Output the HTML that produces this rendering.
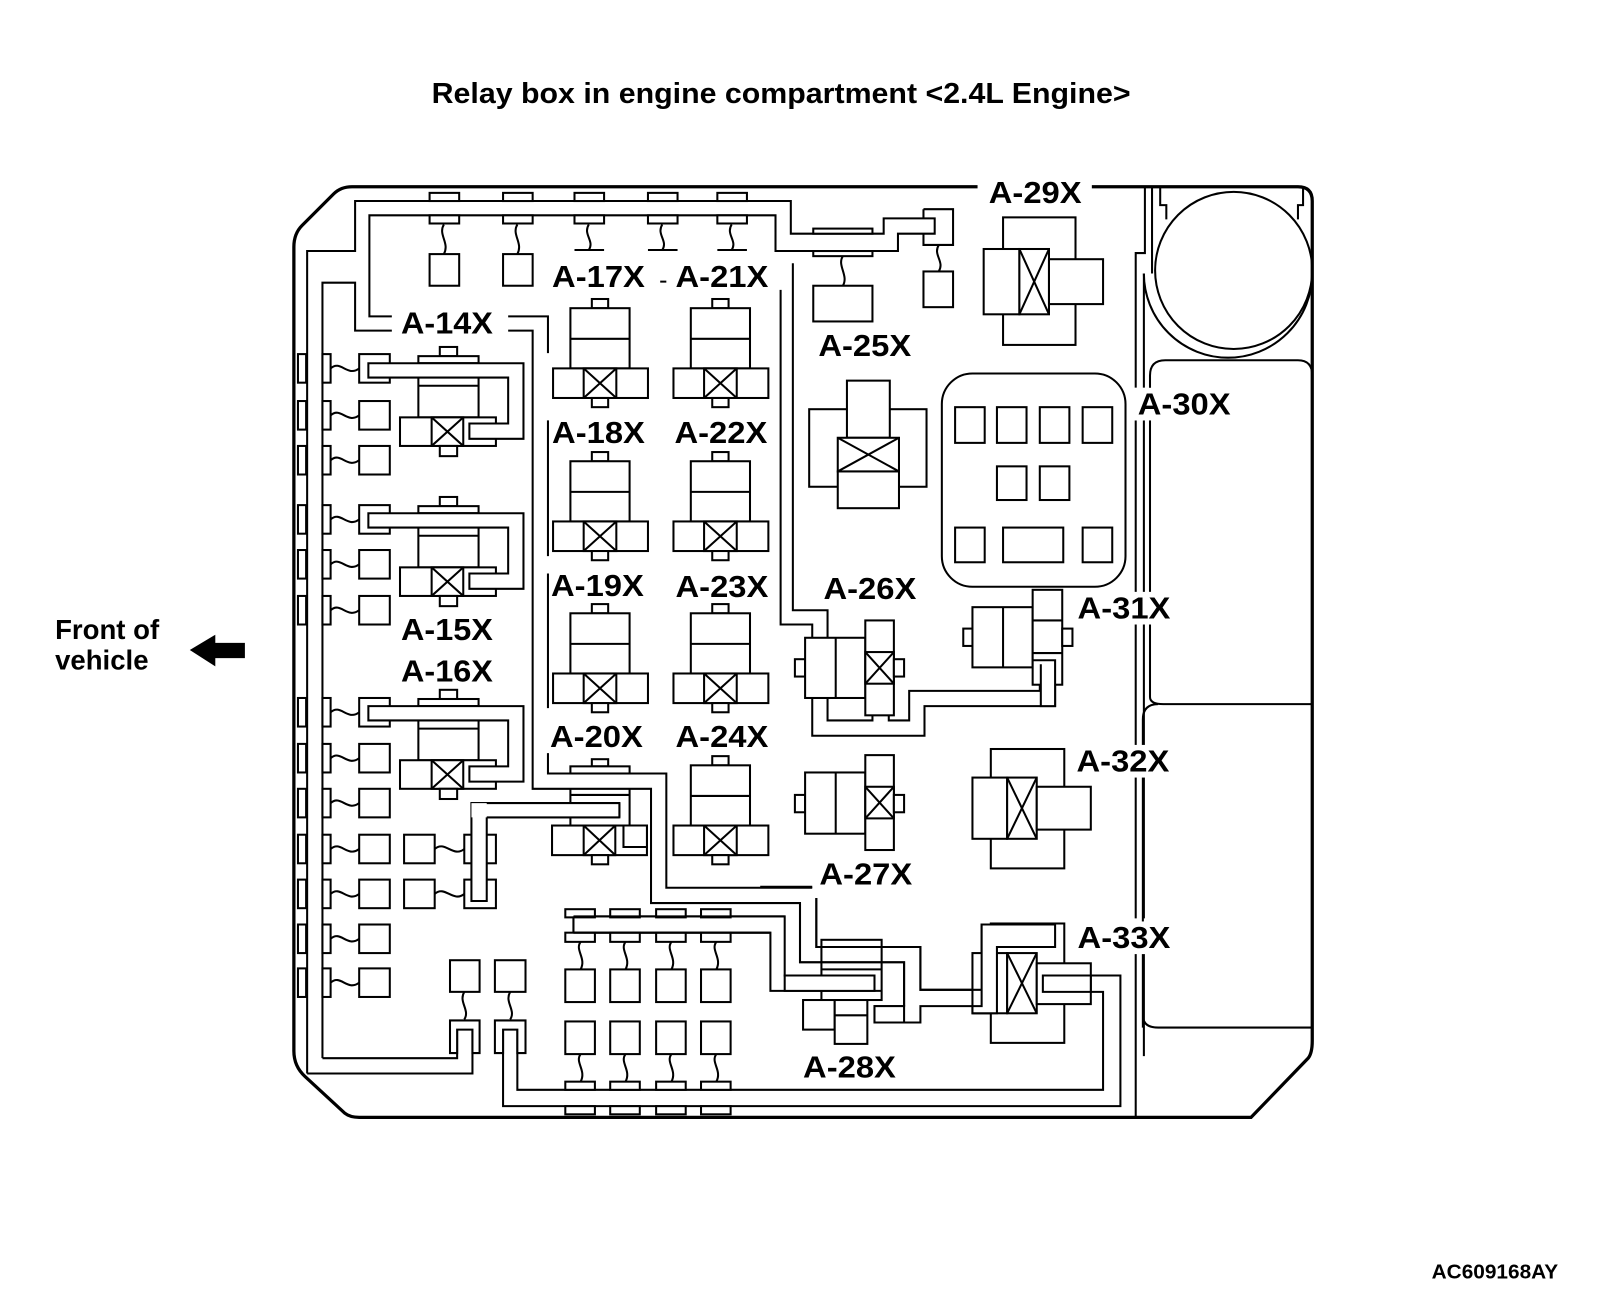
<!DOCTYPE html>
<html><head><meta charset="utf-8"><style>
html,body{margin:0;padding:0;background:#fff;}
svg{display:block;}
text{font-family:"Liberation Sans",Arial,sans-serif;font-weight:bold;fill:#000;}
</style></head><body>
<svg width="1600" height="1298" viewBox="0 0 1568 1272" xmlns="http://www.w3.org/2000/svg">
<defs>
<g id="vr" fill="#fff" stroke="#000" stroke-width="2">
<rect x="38" y="0" width="16" height="9"/><rect x="17" y="9" width="58" height="59"/><line x1="17" y1="39" x2="75" y2="39"/>
<rect x="0" y="68" width="93" height="29"/><rect x="30" y="68" width="32" height="29"/>
<path d="M30 68 L62 97 M62 68 L30 97"/><rect x="38" y="97" width="16" height="9"/>
</g>
<g id="hr" fill="#fff" stroke="#000" stroke-width="2">
<rect x="39" y="0" width="17" height="9"/><rect x="18" y="9" width="59" height="7"/><rect x="18" y="16" width="59" height="53"/>
<line x1="18" y1="38" x2="77" y2="38"/>
<rect x="0" y="69" width="94" height="28"/><rect x="31" y="69" width="31" height="28"/>
<path d="M31 69 L62 97 M62 69 L31 97"/><rect x="39" y="97" width="17" height="10"/>
<path d="M-31 16 H121 V90 H68 V75 H106 V30 H-31 Z"/>
</g>
<g id="lc" fill="#fff" stroke="#000" stroke-width="2">
<rect x="292" y="-14" width="8" height="28"/><rect x="316" y="-14" width="8" height="28"/>
<path d="M324 0 C334 -9 340 9 352 0" fill="none"/><rect x="352" y="-14" width="30" height="28"/>
</g>
<g id="bc" fill="#fff" stroke="#000" stroke-width="2">
<rect x="0" y="891" width="29" height="8"/><rect x="0" y="914" width="29" height="9"/>
<path d="M15 923 C9 931 21 939 15 950" fill="none"/><rect x="0" y="950" width="29" height="32"/>
<rect x="0" y="1001" width="29" height="32"/><path d="M15 1033 C9 1041 21 1049 15 1060" fill="none"/>
<rect x="0" y="1060" width="29" height="8"/><rect x="0" y="1084" width="29" height="8"/>
</g>
</defs>

<text x="423" y="101" font-size="28" textLength="685" lengthAdjust="spacingAndGlyphs">Relay box in engine compartment &lt;2.4L Engine&gt;</text>
<text x="54" y="626" font-size="27">Front of</text>
<text x="54" y="656" font-size="27">vehicle</text>
<path d="M186 637 L211 622 V630 H240 V645 H211 V653 Z" fill="#000"/>
<text x="1403" y="1253" font-size="20" textLength="124" lengthAdjust="spacingAndGlyphs">AC609168AY</text>

<g fill="none" stroke="#000" stroke-width="2">
<path d="M958 183 H345 Q334 183 327 190 L296 221 Q288 229 288 242 V1030 Q288 1045 299 1055 L338 1091 Q343 1095 352 1095 H1226 L1282 1037 Q1286 1032 1286 1020 V197 Q1286 183 1272 183 H1070" stroke-width="3.2"/>
<path d="M301 1052 V246 H348 V197 H775 V229 H866 V214 H916 V229 H880 V246 H760 V211 H362 V310 H385"/>
<path d="M316 1037 V277 H348 V324 H385"/>
<path d="M301 1052 H463 V1009 M316 1037 H448 V1009"/>
<path d="M497 310 H537 V346 M537 412 V545 M537 562 V694 M537 738 V758 H653 V870 H796 M800 880 V928 H902 V970 H962 V906 H1034 V928 H977 V993 H953"/>
<path d="M497 324 H522 V773 H638 V885 H784 V943 H886 V986 H857 V1002 H902 V986 H953"/>
<path d="M745 869 H796"/>
<path d="M765 284 V612 H796 V721 H906 V692 H1034 V648 H1020"/>
<path d="M777 258 V598 H811 V706 H855 V680 H871 V706 H891 V677 H1019 V652"/>
<path d="M1022 956 H1098 V1084 H493 V1009 M1022 956 V972 H1081 V1068 H507 V1009"/>
<path d="M562 898 H769 V956 H857 V971 H755 V914 H562 Z"/>
<path d="M1122 183 V248 H1113 V380 M1113 412 V900 M1113 932 V1095"/>
<path d="M1129 183 V268 M1121 268 V380 M1121 412 V900 M1121 932 V1035"/>
<path d="M1137 183 V201 H1143 V215 M1277 183 V201 H1272 V215"/>
<circle cx="1209" cy="265" r="77"/>
<path d="M1121 268 A82.5 82.5 0 0 0 1286 268"/>
<path d="M1127 683 V368 Q1127 353 1142 353 H1272 Q1286 353 1286 368 M1127 683 Q1127 690 1140 690 H1286"/>
<path d="M1120 1007 V705 Q1120 690 1135 690 M1120 995 Q1120 1007 1135 1007 H1286"/>
</g>

<g fill="#fff" stroke="#000" stroke-width="2">
<rect x="421" y="189" width="29" height="8"/><rect x="421" y="211" width="29" height="8"/><rect x="421" y="249" width="29" height="31"/>
<rect x="493" y="189" width="29" height="8"/><rect x="493" y="211" width="29" height="8"/><rect x="493" y="249" width="29" height="31"/>
<rect x="563" y="189" width="29" height="8"/><rect x="563" y="211" width="29" height="8"/>
<rect x="635" y="189" width="29" height="8"/><rect x="635" y="211" width="29" height="8"/>
<rect x="703" y="189" width="29" height="8"/><rect x="703" y="211" width="29" height="8"/>
<path fill="none" d="M435 220 C429 230 441 238 435 249 M507 220 C501 230 513 238 507 249 M577 220 C571 230 583 236 577 245 M649 220 C643 230 655 236 649 245 M717 220 C711 230 723 236 717 245 M563 245 H592 M635 245 H664 M703 245 H732 M647 276 H653"/>
<rect x="797" y="224" width="58" height="5"/><rect x="797" y="246" width="58" height="5"/><rect x="797" y="280" width="58" height="35"/>
<path fill="none" d="M826 251 C820 260 832 270 826 280 M920 240 C914 250 926 256 920 266"/>
<rect x="905" y="266" width="29" height="35"/>
<path fill="none" d="M905 205 H934 V240 H905 V229 M905 214 V205"/>
</g>

<use href="#lc" y="361"/><use href="#lc" y="407"/><use href="#lc" y="451"/>
<use href="#lc" y="509"/><use href="#lc" y="553"/><use href="#lc" y="598"/>
<use href="#lc" y="698"/><use href="#lc" y="743"/><use href="#lc" y="787"/>
<use href="#lc" y="832"/><use href="#lc" y="876"/><use href="#lc" y="920"/><use href="#lc" y="963"/>
<g fill="#fff" stroke="#000" stroke-width="2">
<rect x="396" y="818" width="30" height="28"/><rect x="455" y="818" width="31" height="28"/>
<rect x="396" y="862" width="30" height="28"/><rect x="455" y="862" width="31" height="28"/>
<path fill="none" d="M426 832 C436 823 444 841 455 832 M426 876 C436 867 444 885 455 876"/>
<path d="M607 787 H462 V883 H477 V801 H607 Z"/>
<rect x="441" y="941" width="29" height="31"/><rect x="485" y="941" width="30" height="31"/>
<path fill="none" d="M455 972 C449 982 461 990 455 999 M500 972 C494 982 506 990 500 999"/>
<path d="M441 1000 H470 V1032 H463 V1009 H448 V1032 H441 Z"/>
<path d="M485 1000 H515 V1032 H507 V1009 H493 V1032 H485 Z"/>
</g>

<use href="#hr" x="392" y="340"/>
<use href="#hr" x="392" y="487"/>
<use href="#hr" x="392" y="676"/>

<use href="#vr" x="542" y="293"/><use href="#vr" x="660" y="293"/>
<use href="#vr" x="542" y="443"/><use href="#vr" x="660" y="443"/>
<use href="#vr" x="542" y="592"/><use href="#vr" x="660" y="592"/>
<use href="#vr" x="660" y="741"/>
<g fill="#fff" stroke="#000" stroke-width="2">
<rect x="580" y="744" width="16" height="7"/><rect x="559" y="751" width="58" height="7"/>
<path fill="none" d="M559 773 V808 M617 773 V808 M559 779 H617"/>
<rect x="541" y="809" width="93" height="29"/><rect x="572" y="809" width="31" height="29"/>
<path d="M572 809 L603 838 M603 809 L572 838"/><rect x="580" y="838" width="16" height="9"/>
<path d="M611 809 H634 V830 H611 Z"/>
<path d="M607 787 H462 V801 H607 Z" stroke="none"/>
<path fill="none" d="M607 787 H477 M607 801 H477 M607 787 V801"/>
</g>

<use href="#bc" x="554"/><use href="#bc" x="598"/><use href="#bc" x="643"/><use href="#bc" x="687"/>
<path d="M562 898 H769 M562 914 H755 M562 898 V914" fill="none" stroke="#000" stroke-width="2"/>

<g fill="#fff" stroke="#000" stroke-width="2">
<rect x="983" y="213" width="71" height="125"/><rect x="964" y="244" width="35" height="64"/>
<rect x="999" y="244" width="29" height="64"/><path d="M999 244 L1028 308 M1028 244 L999 308"/>
<rect x="1028" y="254" width="53" height="44"/>
<rect x="793" y="401" width="115" height="76"/><rect x="830" y="373" width="42" height="56"/>
<rect x="821" y="429" width="60" height="33"/><path d="M821 429 L881 462 M881 429 L821 462"/>
<rect x="821" y="462" width="60" height="36"/>
<rect x="923" y="366" width="180" height="209" rx="30"/>
<rect x="936" y="399" width="29" height="35"/><rect x="977" y="399" width="29" height="35"/>
<rect x="1019" y="399" width="29" height="35"/><rect x="1061" y="399" width="29" height="35"/>
<rect x="977" y="457" width="29" height="33"/><rect x="1019" y="457" width="29" height="33"/>
<rect x="936" y="517" width="29" height="34"/><rect x="983" y="517" width="59" height="34"/><rect x="1061" y="517" width="29" height="34"/>
<rect x="779" y="646" width="10" height="17"/><rect x="789" y="625" width="59" height="59"/>
<line x1="819" y1="625" x2="819" y2="684"/><rect x="848" y="608" width="28" height="93"/>
<rect x="848" y="639" width="28" height="31"/><path d="M848 639 L876 670 M876 639 L848 670"/>
<rect x="876" y="646" width="10" height="17"/>
<rect x="779" y="779" width="10" height="17"/><rect x="789" y="757" width="59" height="60"/>
<line x1="819" y1="757" x2="819" y2="817"/><rect x="848" y="740" width="28" height="93"/>
<rect x="848" y="771" width="28" height="31"/><path d="M848 771 L876 802 M876 771 L848 802"/>
<rect x="876" y="779" width="10" height="17"/>
<rect x="944" y="616" width="10" height="17"/><rect x="953" y="595" width="59" height="59"/>
<line x1="983" y1="595" x2="983" y2="654"/><rect x="1012" y="578" width="29" height="93"/>
<path fill="none" d="M1012 608 H1041 M1012 640 H1041"/><rect x="1041" y="616" width="10" height="17"/>
<path d="M1012 647 H1034 V692 H1020 V652 H1019"/>
<rect x="971" y="734" width="72" height="117"/><rect x="953" y="762" width="34" height="60"/>
<rect x="987" y="762" width="29" height="60"/><path d="M987 762 L1016 822 M1016 762 L987 822"/>
<rect x="1016" y="771" width="53" height="42"/>
<rect x="971" y="905" width="72" height="117"/><rect x="953" y="934" width="34" height="59"/>
<rect x="987" y="934" width="29" height="59"/><path d="M987 934 L1016 993 M1016 934 L987 993"/>
<rect x="1016" y="944" width="53" height="40"/>
<path d="M962 970 V906 H1034 V928 H977 V993 H953 V986 H962 Z"/>
<path d="M1022 956 H1069 V972 H1022 Z"/>
<rect x="805" y="921" width="59" height="59"/>
<path fill="none" d="M805 928 H864 M805 943 H864 M805 950 H864 M805 971 H864"/>
<rect x="787" y="980" width="31" height="29"/><rect x="818" y="980" width="32" height="43"/>
<line x1="818" y1="995" x2="850" y2="995"/>
<path d="M857 986 H886 V1002 H857 Z"/>
<path d="M857 956 H769 V971 H857 Z"/>
</g>
<path d="M800 880 V928 H902 V970 H962 M784 885 V943 H886 V986" fill="none" stroke="#000" stroke-width="2"/>

<g font-size="30">
<rect x="384" y="300" width="114" height="32" fill="#fff"/>
<text x="393" y="327" textLength="90" lengthAdjust="spacingAndGlyphs">A-14X</text>
<text x="541" y="281" textLength="91" lengthAdjust="spacingAndGlyphs">A-17X</text>
<text x="662" y="281" textLength="91" lengthAdjust="spacingAndGlyphs">A-21X</text>
<text x="541" y="434" textLength="91" lengthAdjust="spacingAndGlyphs">A-18X</text>
<text x="661" y="434" textLength="91" lengthAdjust="spacingAndGlyphs">A-22X</text>
<text x="540" y="584" textLength="91" lengthAdjust="spacingAndGlyphs">A-19X</text>
<text x="662" y="585" textLength="91" lengthAdjust="spacingAndGlyphs">A-23X</text>
<text x="393" y="627" textLength="90" lengthAdjust="spacingAndGlyphs">A-15X</text>
<text x="393" y="668" textLength="90" lengthAdjust="spacingAndGlyphs">A-16X</text>
<text x="539" y="732" textLength="91" lengthAdjust="spacingAndGlyphs">A-20X</text>
<text x="662" y="732" textLength="91" lengthAdjust="spacingAndGlyphs">A-24X</text>
<text x="802" y="349" textLength="91" lengthAdjust="spacingAndGlyphs">A-25X</text>
<text x="969" y="199" textLength="91" lengthAdjust="spacingAndGlyphs">A-29X</text>
<rect x="1108" y="380" width="100" height="32" fill="#fff"/>
<text x="1115" y="406" textLength="91" lengthAdjust="spacingAndGlyphs">A-30X</text>
<text x="807" y="587" textLength="91" lengthAdjust="spacingAndGlyphs">A-26X</text>
<rect x="1055" y="580" width="95" height="32" fill="#fff"/>
<text x="1056" y="606" textLength="91" lengthAdjust="spacingAndGlyphs">A-31X</text>
<rect x="1055" y="730" width="95" height="32" fill="#fff"/>
<text x="1055" y="756" textLength="91" lengthAdjust="spacingAndGlyphs">A-32X</text>
<text x="803" y="867" textLength="91" lengthAdjust="spacingAndGlyphs">A-27X</text>
<rect x="1055" y="903" width="95" height="32" fill="#fff"/>
<text x="1056" y="929" textLength="91" lengthAdjust="spacingAndGlyphs">A-33X</text>
<text x="787" y="1056" textLength="91" lengthAdjust="spacingAndGlyphs">A-28X</text>
</g>
</svg>
</body></html>
